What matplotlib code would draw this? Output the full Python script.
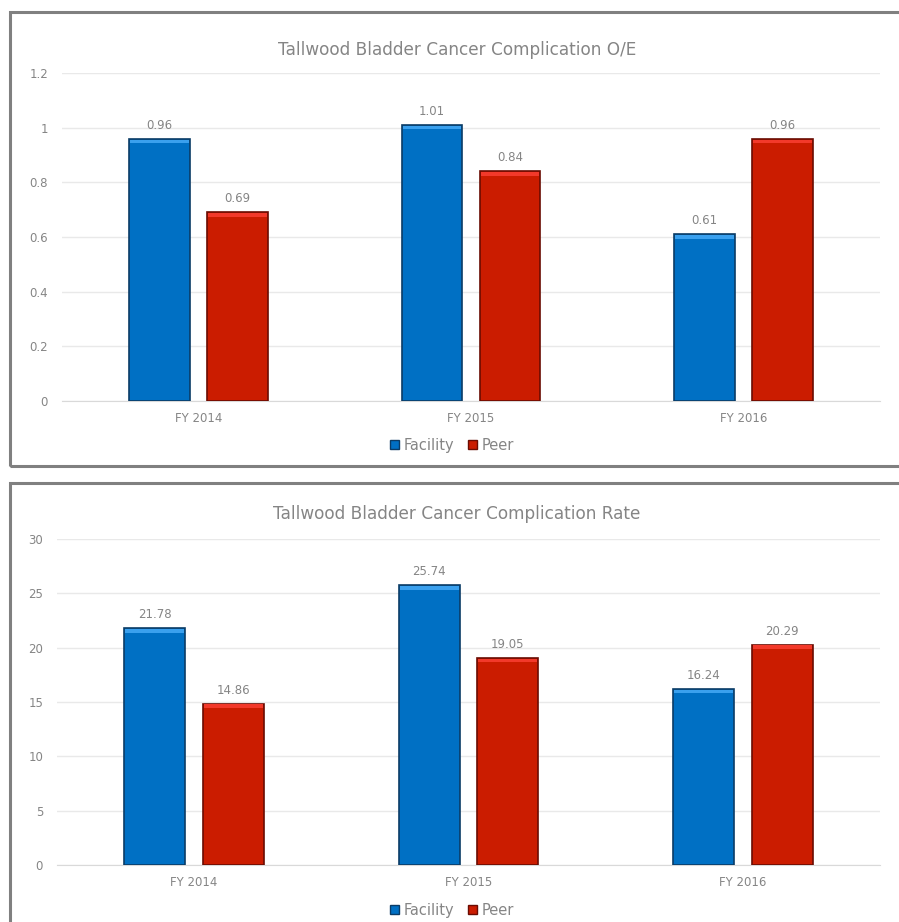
import numpy as np
import matplotlib.pyplot as plt
from matplotlib.patches import Rectangle, Patch

# data
categories = ['FY 2014', 'FY 2015', 'FY 2016']
oe_facility = [0.96, 1.01, 0.61]
oe_peer = [0.69, 0.84, 0.96]
rate_facility = [21.78, 25.74, 16.24]
rate_peer = [14.86, 19.05, 20.29]

oe_ticks = [0, 0.2, 0.4, 0.6, 0.8, 1, 1.2]
oe_ticklabels = ['0', '0.2', '0.4', '0.6', '0.8', '1', '1.2']
rate_ticks = [0, 5, 10, 15, 20, 25, 30]

BLUE = '#0070c4'
BLUE_EDGE = '#0b3c66'
BLUE_TOP = '#3aa0ee'
RED = '#cb1c00'
RED_EDGE = '#6a0c02'
RED_TOP = '#f2392a'
TEXT = '#858585'
GRID = '#e9e9e9'

W, H = 899, 922
fig = plt.figure(figsize=(W / 100, H / 100), dpi=100)


def px_rect(left, right, top, bottom):
    # pixel box -> figure fraction [l, b, w, h]
    return [left / W, 1 - bottom / H, (right - left) / W, (bottom - top) / H]


def draw_panel(rect, facility, peer, ymax, ticks, ticklabels, title, title_y):
    ax = fig.add_axes(rect)
    x = np.arange(len(categories))
    width = 0.222
    off = 0.143
    for vals, sign, face, edge, top in [(facility, -1, BLUE, BLUE_EDGE, BLUE_TOP),
                                        (peer, 1, RED, RED_EDGE, RED_TOP)]:
        vals = np.array(vals)
        ax.bar(x + sign * off, vals, width, color=face, edgecolor=edge,
               linewidth=1.2, zorder=3)
        # bevel highlight at the top of each bar
        cap = ymax * 0.01
        ax.bar(x + sign * off, np.full_like(vals, cap), width * 0.97,
               bottom=vals - cap * 1.3, color=top, linewidth=0, zorder=4)
        for xi, v in zip(x + sign * off, vals):
            ax.annotate(f'{v:.2f}', (xi, v), xytext=(0, 5), textcoords='offset points',
                        ha='center', va='bottom', fontsize=8.5, color=TEXT)
    ax.set_xlim(-0.5, len(categories) - 0.5)
    ax.set_ylim(0, ymax)
    ax.set_yticks(ticks)
    ax.set_yticklabels(ticklabels)
    ax.set_xticks(x)
    ax.set_xticklabels(categories)
    ax.grid(axis='y', color=GRID, linewidth=1, zorder=0)
    ax.set_axisbelow(True)
    for s in ['top', 'right', 'left']:
        ax.spines[s].set_visible(False)
    ax.spines['bottom'].set_color('#d9d9d9')
    ax.tick_params(axis='y', length=0, pad=10, labelsize=8.5, labelcolor=TEXT)
    ax.tick_params(axis='x', length=0, pad=8, labelsize=8.5, labelcolor=TEXT)
    fig.text(457 / W, 1 - title_y / H, title, ha='center', va='center',
             fontsize=12.2, color=TEXT)
    return ax


ax1 = draw_panel(px_rect(62, 880, 73, 401), oe_facility, oe_peer, 1.2,
                 oe_ticks, oe_ticklabels,
                 'Tallwood Bladder Cancer Complication O/E', 50)
ax2 = draw_panel(px_rect(57, 880, 539, 865), rate_facility, rate_peer, 30,
                 rate_ticks, [str(t) for t in rate_ticks],
                 'Tallwood Bladder Cancer Complication Rate', 514)

handles = [Patch(facecolor=BLUE, edgecolor=BLUE_EDGE, label='Facility'),
           Patch(facecolor=RED, edgecolor=RED_EDGE, label='Peer')]
for ly in [445, 910]:
    fig.legend(handles=handles, loc='center', bbox_to_anchor=(452 / W, 1 - ly / H),
               ncol=2, frameon=False, fontsize=10.5, labelcolor=TEXT,
               handlelength=0.6, handleheight=0.6, handletextpad=0.3,
               columnspacing=1.0)

# panel frames
fig.patches.append(Rectangle((10 / W, 1 - 466 / H), 1.0, 454 / H, transform=fig.transFigure,
                             fill=False, edgecolor='#808080', linewidth=2.2))
fig.patches.append(Rectangle((10 / W, -0.1), 1.0, (0.1 + 1 - 483 / H), transform=fig.transFigure,
                             fill=False, edgecolor='#808080', linewidth=2.2))

fig.savefig('out.png', dpi=100)
